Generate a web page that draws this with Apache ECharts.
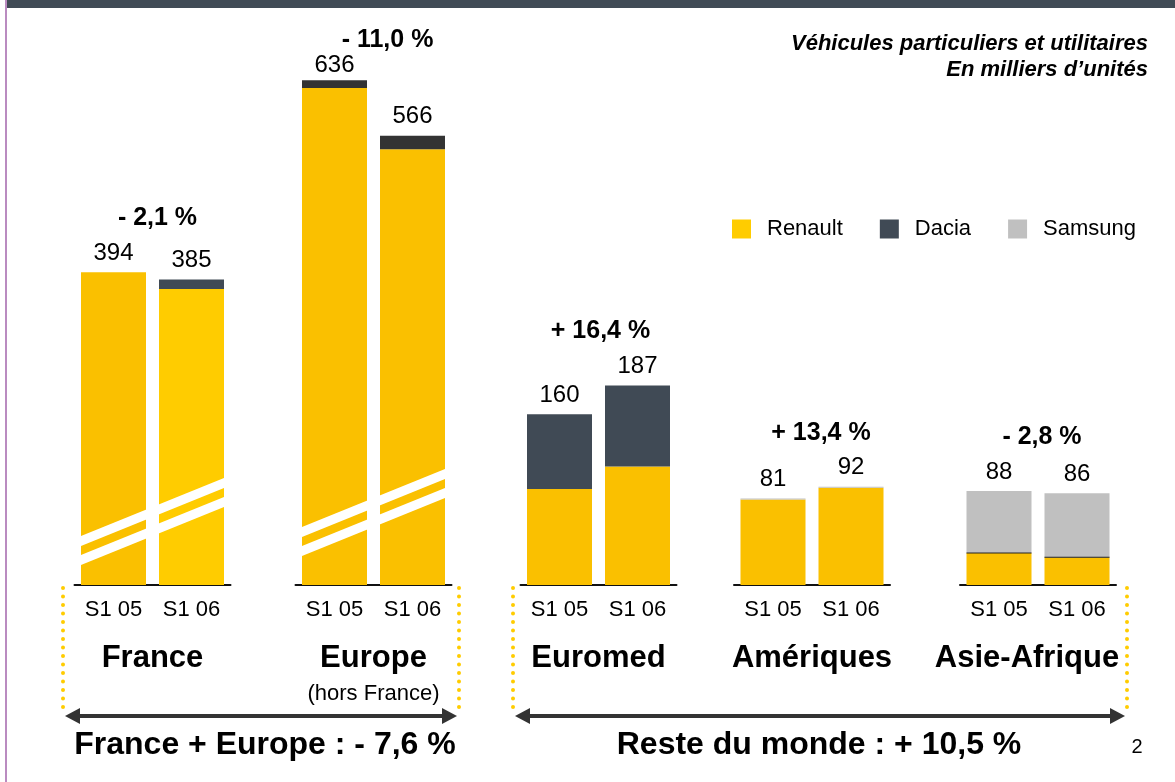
<!DOCTYPE html>
<html><head><meta charset="utf-8">
<script src="https://cdn.jsdelivr.net/npm/echarts@6/dist/echarts.min.js"></script>
<style>html,body{margin:0;padding:0;background:#fff}#c{width:1175px;height:782px}</style>
</head><body><div id="c"></div>
<script>
// ---- data ----
const regions = ['France', 'Europe', 'Euromed', 'Amériques', 'Asie-Afrique'];
const regionNotes = ['', '(hors France)', '', '', ''];
const periods = ['S1 05', 'S1 06'];
const renault = [[394, 373], [626, 549], [90, 111], [80, 91], [30, 26]];
const dacia   = [[0, 12], [10, 17], [70, 76], [0, 0], [0, 0]];
const samsung = [[0, 0], [0, 0], [0, 0], [1, 1], [58, 60]];
const totals  = [[394, 385], [636, 566], [160, 187], [81, 92], [88, 86]];
const changes = ['- 2,1 %', '- 11,0 %', '+ 16,4 %', '+ 13,4 %', '- 2,8 %'];
const blockNames = ['France + Europe : - 7,6 %', 'Reste du monde : + 10,5 %'];
const brands = ['Renault', 'Dacia', 'Samsung'];

// ---- layout / style ----
const FONT = 'Liberation Sans, Arial, sans-serif';
const centers = [152.5, 373.5, 598.5, 812, 1038];
const changeShift = [5, 14, 2, 9, 4];
const nameShift = [0, 0, 0, 0, -11];
const GRID_W = 156;
const BASE = 585;
const scaleGroup = [0, 0, 1, 1, 1];
const yMax = [640, 400];
const gridTop = [77, 158];
const colors = { Renault: '#FAC000', Dacia: '#404A55', Samsung: '#C0C0C0' };
const comps = [renault, dacia, samsung];

const chart = echarts.init(document.getElementById('c'), null, { renderer: 'canvas' });

const grids = [], xAxes = [], yAxes = [], series = [];
regions.forEach((r, g) => {
  const sg = scaleGroup[g];
  grids.push({ left: centers[g] - GRID_W / 2, width: GRID_W, top: gridTop[sg], bottom: 782 - BASE });
  const nm = regionNotes[g] ? '{b|' + r + '}\n{s|' + regionNotes[g] + '}' : '{b|' + r + '}';
  const sh = nameShift[g];
  const pad = sh < 0 ? [0, -2 * sh, 0, 0] : [0, 0, 0, 2 * sh];
  xAxes.push({
    type: 'category', gridIndex: g, data: periods,
    axisTick: { show: false },
    axisLine: { lineStyle: { color: '#111', width: 2 } },
    axisLabel: { fontSize: 22, color: '#000', margin: 14, fontFamily: FONT },
    name: nm, nameLocation: 'middle', nameGap: 55,
    nameTextStyle: {
      padding: pad,
      rich: {
        b: { fontSize: 31, fontWeight: 'bold', color: '#000', lineHeight: 36, fontFamily: FONT },
        s: { fontSize: 22, color: '#000', lineHeight: 36, fontFamily: FONT }
      }
    }
  });
  yAxes.push({ type: 'value', gridIndex: g, min: 0, max: yMax[sg], show: false });
  brands.forEach((b, k) => {
    let col = colors[b];
    if (b === 'Dacia' && g === 1) col = '#333333';
    const data = comps[k][g].map((v, i) => {
      const item = { value: v };
      if (b === 'Renault' && g === 0 && i === 1) item.itemStyle = { color: '#FFCC00' };
      if (g === 1 && i === 0) item.label = { distance: 3 };
      return item;
    });
    series.push({
      type: 'bar', name: b, xAxisIndex: g, yAxisIndex: g, stack: 's' + g,
      barWidth: 65, data: data, itemStyle: { color: col },
      emphasis: { disabled: true },
      label: {
        show: true, position: 'top', distance: 7, fontSize: 24, color: '#000', fontFamily: FONT,
        formatter: (p) => {
          const i = p.dataIndex;
          let topK = 0;
          comps.forEach((c, kk) => { if (c[g][i] > 0) topK = kk; });
          return topK === k ? String(totals[g][i]) : '';
        }
      }
    });
  });
});

const option = {
  animation: false,
  backgroundColor: '#fff',
  legend: {
    data: [
      { name: 'Renault', itemStyle: { color: '#FFCC00' } },
      { name: 'Dacia', itemStyle: { color: '#404A55' } },
      { name: 'Samsung', itemStyle: { color: '#C0C0C0' } }
    ],
    left: 727, top: 213, itemWidth: 19, itemHeight: 19, itemGap: 37, icon: 'rect',
    selectedMode: false,
    textStyle: { fontSize: 22, color: '#000', fontFamily: FONT, padding: [0, 0, 0, 11] }
  },
  grid: grids, xAxis: xAxes, yAxis: yAxes, series: series
};
chart.setOption(option);

// ---- annotations positioned through the chart's own scales ----
const gfx = [];
gfx.push({ type: 'rect', shape: { x: 7, y: 0, width: 1168, height: 8 }, style: { fill: '#414B56' }, z: 10 });
gfx.push({ type: 'rect', shape: { x: 5, y: 0, width: 2, height: 782 }, style: { fill: '#BA8BC0' }, z: 10 });
gfx.push({ type: 'text', x: 1148, y: 44, style: { text: 'Véhicules particuliers et utilitaires', textAlign: 'right', textVerticalAlign: 'middle', font: 'italic bold 22px ' + FONT, fill: '#000' } });
gfx.push({ type: 'text', x: 1148, y: 70, style: { text: 'En milliers d\u2019unités', textAlign: 'right', textVerticalAlign: 'middle', font: 'italic bold 22px ' + FONT, fill: '#000' } });

regions.forEach((r, g) => {
  const p0 = chart.convertToPixel({ gridIndex: g }, [0, totals[g][0]]);
  const p1 = chart.convertToPixel({ gridIndex: g }, [1, totals[g][1]]);
  const cx = (p0[0] + p1[0]) / 2;
  const topY = Math.min(p0[1], p1[1]);
  const y = Math.max(40, topY - 54);
  gfx.push({ type: 'text', x: cx + changeShift[g], y: y, z: 20, style: { text: changes[g], textAlign: 'center', textVerticalAlign: 'middle', font: 'bold 25px ' + FONT, fill: '#000' } });
  if (scaleGroup[g] === 0) {
    const base = chart.convertToPixel({ gridIndex: g }, [0, 0])[1];
    const L = p0[0] - 32.5, R = p1[0] + 32.5;
    const lift = g === 0 ? 20 : 29;
    const rise = 58;
    [0, 19].forEach(off => {
      const yl = base - lift - off;
      gfx.push({ type: 'polygon', z: 20, shape: { points: [[L, yl], [R, yl - rise], [R, yl - rise - 10], [L, yl - 10]] }, style: { fill: '#fff' } });
    });
  }
  // thin separator where a Samsung segment sits on Renault
  [0, 1].forEach(i => {
    if (samsung[g][i] > 5) {
      const p = chart.convertToPixel({ gridIndex: g }, [i, renault[g][i]]);
      gfx.push({ type: 'line', z: 20, shape: { x1: p[0] - 32.5, y1: p[1], x2: p[0] + 32.5, y2: p[1] }, style: { stroke: '#222', lineWidth: 1.2 } });
    }
  });
});

const blocks = [[63, 459], [513, 1127]];
const blockCenters = [265, 819];
blocks.forEach((bx, j) => {
  bx.forEach(x => {
    gfx.push({ type: 'line', z: 5, shape: { x1: x, y1: 588, x2: x, y2: 715 }, style: { stroke: '#FFCC00', lineWidth: 4, lineDash: [0, 8.5], lineCap: 'round' } });
  });
  const y = 716, a = bx[0] + 2, b = bx[1] - 2;
  gfx.push({ type: 'line', z: 6, shape: { x1: a + 10, y1: y, x2: b - 10, y2: y }, style: { stroke: '#333', lineWidth: 4 } });
  gfx.push({ type: 'polygon', z: 6, shape: { points: [[a, y], [a + 15, y - 8], [a + 15, y + 8]] }, style: { fill: '#333' } });
  gfx.push({ type: 'polygon', z: 6, shape: { points: [[b, y], [b - 15, y - 8], [b - 15, y + 8]] }, style: { fill: '#333' } });
  gfx.push({ type: 'text', x: blockCenters[j], y: 745, style: { text: blockNames[j], textAlign: 'center', textVerticalAlign: 'middle', font: 'bold 32px ' + FONT, fill: '#000' } });
});
gfx.push({ type: 'text', x: 1137, y: 747, style: { text: '2', textAlign: 'center', textVerticalAlign: 'middle', font: '20px ' + FONT, fill: '#000' } });

chart.setOption({ graphic: gfx });
</script>
</body></html>
